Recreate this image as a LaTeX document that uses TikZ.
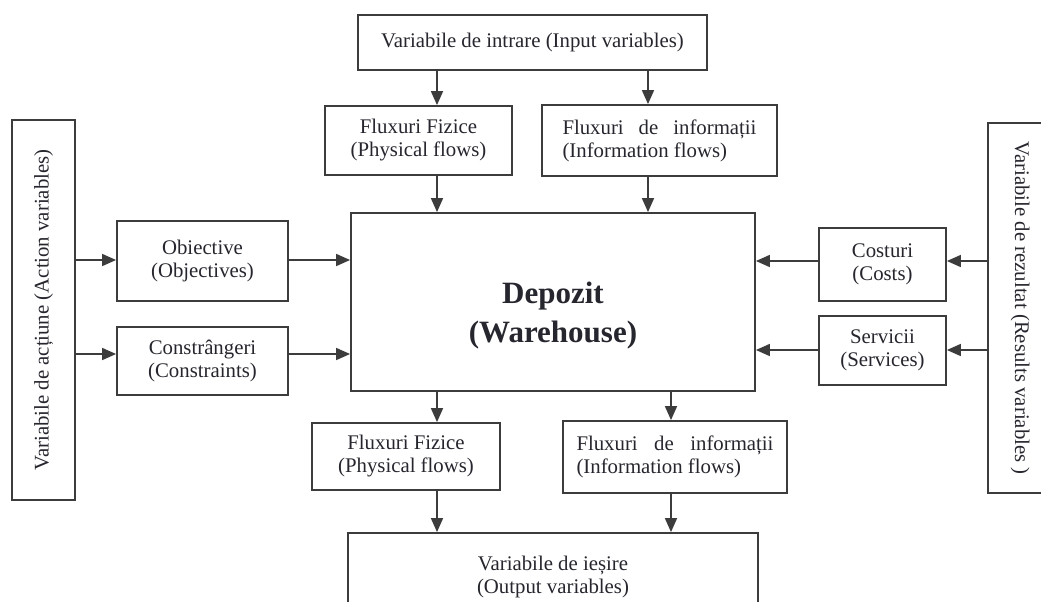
\documentclass[tikz,border=0pt]{standalone}
\usepackage{fontspec}
\setmainfont{Liberation Serif}
\usetikzlibrary{arrows.meta}
\definecolor{FrameGray}{HTML}{3C3C3C}
\definecolor{TextDark}{HTML}{26262E}
\newcommand{\spreadline}[2]{\makebox[#1][s]{#2}}

\begin{document}
\begin{tikzpicture}[
  x=0.5pt, y=-0.5pt,
  box/.style={draw=FrameGray,line width=0.9pt,fill=white,inner sep=0pt,align=center,text=TextDark,font=\fontsize{10.4}{11.5}\selectfont},
  arrow/.style={-{Triangle[length=7pt,width=6pt]},line width=0.8pt,draw=FrameGray}
]
  \useasboundingbox (0,0) rectangle (1041,601);
  \clip (0,0) rectangle (1041,601);
  \fill[white] (0,0) rectangle (1041,601);

  % inputs and incoming flows
  \node[box, minimum width=174.5pt, minimum height=27.5pt] (input) at (532.5,42.5) {Variabile de intrare (Input variables)};
  \node[box, minimum width=93.5pt, minimum height=34.5pt] (physin) at (418.5,140.5) {Fluxuri Fizice\\(Physical flows)};
  \node[box, align=left, minimum width=117.5pt, minimum height=35.5pt] (infoin) at (659.5,140.5) {\spreadline{97pt}{Fluxuri de informații}\\(Information flows)};

  % warehouse
  \node[box, minimum width=202pt, minimum height=89pt] (depot) at (553,302) {};
  \node[text=TextDark, align=center, font=\fontsize{15.5}{19.5}\selectfont\bfseries] (depotlabel) at (553,316) {Depozit\\(Warehouse)};

  % action side
  \node[box, minimum width=31.5pt, minimum height=190pt] (action) at (43.5,310) {\rotatebox{90}{Variabile de acțiune (Action variables)}};
  \node[box, minimum width=85.5pt, minimum height=40pt] (obj) at (202.5,261) {Obiective\\(Objectives)};
  \node[box, minimum width=85.5pt, minimum height=34pt] (cons) at (202.5,361) {Constrângeri\\(Constraints)};

  % result side
  \node[box, minimum width=32pt, minimum height=185pt] (result) at (1020,308) {\rotatebox{-90}{Variabile de rezultat (Results variables )}};
  \node[box, minimum width=63.5pt, minimum height=36.5pt] (cost) at (882.5,264.5) {Costuri\\(Costs)};
  \node[box, minimum width=63.5pt, minimum height=34.5pt] (serv) at (882.5,350.5) {Servicii\\(Services)};

  % outgoing flows and outputs
  \node[box, minimum width=94pt, minimum height=33.5pt] (physout) at (406,456.5) {Fluxuri Fizice\\(Physical flows)};
  \node[box, align=left, minimum width=112pt, minimum height=36pt] (infoout) at (675,457) {\spreadline{98.5pt}{Fluxuri de informații}\\(Information flows)};
  \node[box, minimum width=205pt, minimum height=43.5pt] (output) at (553,576.5) {Variabile de ieșire\\(Output variables)};

  \draw[arrow] (437,0 |- input.south) -- (437,0 |- physin.north);
  \draw[arrow] (648,0 |- input.south) -- (648,0 |- infoin.north);
  \draw[arrow] (437,0 |- physin.south) -- (437,0 |- depot.north);
  \draw[arrow] (648,0 |- infoin.south) -- (648,0 |- depot.north);

  \draw[arrow] (action.east |- 0,260) -- (obj.west |- 0,260);
  \draw[arrow] (action.east |- 0,354) -- (cons.west |- 0,354);
  \draw[arrow] (obj.east |- 0,260) -- (depot.west |- 0,260);
  \draw[arrow] (cons.east |- 0,354) -- (depot.west |- 0,354);

  \draw[arrow] (result.west |- 0,261) -- (cost.east |- 0,261);
  \draw[arrow] (result.west |- 0,350) -- (serv.east |- 0,350);
  \draw[arrow] (cost.west |- 0,261) -- (depot.east |- 0,261);
  \draw[arrow] (serv.west |- 0,350) -- (depot.east |- 0,350);

  \draw[arrow] (437,0 |- depot.south) -- (437,0 |- physout.north);
  \draw[arrow] (671,0 |- depot.south) -- (671,0 |- infoout.north);
  \draw[arrow] (437,0 |- physout.south) -- (437,0 |- output.north);
  \draw[arrow] (671,0 |- infoout.south) -- (671,0 |- output.north);
\end{tikzpicture}
\end{document}
